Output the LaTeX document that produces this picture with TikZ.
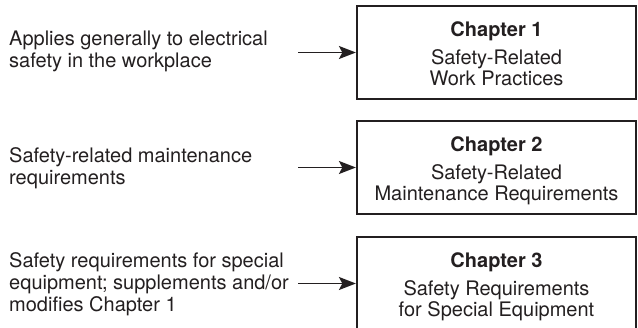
\documentclass[tikz,border=0pt]{standalone}
\usepackage{fontspec}
\setmainfont{TeX Gyre Heros}
\usetikzlibrary{arrows.meta}
\definecolor{ink}{HTML}{231F20}
\begin{document}
\begin{tikzpicture}[x=1pt,y=-1pt,
  chbox/.style={draw=ink,line width=2.2pt,minimum width=279pt,minimum height=93pt,inner sep=0pt},
  desc/.style={anchor=north west,inner sep=0pt,align=left,text=ink,font=\fontsize{20}{22}\selectfont},
  chtext/.style={anchor=north,inner sep=0pt,align=center,text=ink,font=\fontsize{20}{21}\selectfont},
  arr/.style={draw=ink,line width=1.7pt,-{Stealth[length=17pt,width=13pt,inset=3.5pt]}}]
\useasboundingbox (0,0) rectangle (638,328);
\clip (0,0) rectangle (638,328);
% boxes
\node[chbox] (ch1) at (496.5,52.5) {};
\node[chbox] (ch2) at (496.5,167.5) {};
\node[chbox] (ch3) at (496.5,283.5) {};
% box texts
\node[chtext] (c1) at (496.5,21.6) {\textbf{Chapter 1}\\[7pt]Safety-Related\\Work Practices};
\node[chtext] (c2) at (496.5,136.6) {\textbf{Chapter 2}\\[7pt]Safety-Related\\Maintenance Requirements};
\node[chtext] (c3) at (496.5,252.6) {\textbf{Chapter 3}\\[7pt]Safety Requirements\\for Special Equipment};
% descriptions
\node[desc] (d1) at (9,30.4) {Applies generally to electrical\\safety in the workplace};
\node[desc] (d2) at (9,147) {Safety-related maintenance\\requirements};
\node[desc] (d3) at (9,252.4) {Safety requirements for special\\equipment; supplements and/or\\modifies Chapter 1};
% arrows
\coordinate (s1) at (298,52.5);
\coordinate (s2) at (298,167.5);
\coordinate (s3) at (298,283.5);
\draw[arr] (s1) -- (ch1.west);
\draw[arr] (s2) -- (ch2.west);
\draw[arr] (s3) -- (ch3.west);
\end{tikzpicture}
\end{document}
